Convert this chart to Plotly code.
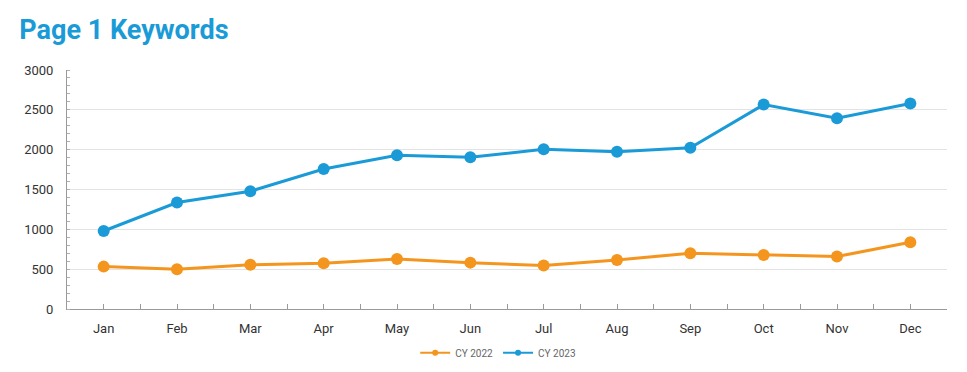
import plotly.graph_objects as go

months = ["Jan", "Feb", "Mar", "Apr", "May", "Jun", "Jul", "Aug", "Sep", "Oct", "Nov", "Dec"]
cy2022 = [532, 500, 554, 575, 629, 582, 545, 616, 700, 679, 658, 837]
cy2023 = [979, 1337, 1479, 1758, 1929, 1904, 2004, 1975, 2025, 2566, 2395, 2579]
y_ticks = [0, 500, 1000, 1500, 2000, 2500, 3000]

x_idx = list(range(len(months)))
c22 = "#F4961E"
c23 = "#1A9BD7"

fig = go.Figure()
fig.add_trace(go.Scatter(
    x=x_idx, y=cy2022, name="CY 2022", mode="lines+markers", showlegend=False,
    line=dict(color=c22, width=3), marker=dict(color=c22, size=12),
))
fig.add_trace(go.Scatter(
    x=x_idx, y=cy2023, name="CY 2023", mode="lines+markers", showlegend=False,
    line=dict(color=c23, width=3), marker=dict(color=c23, size=12),
))
# legend entries (small markers as in the reference)
for name, col in [("CY 2022", c22), ("CY 2023", c23)]:
    fig.add_trace(go.Scatter(
        x=[None], y=[None], name=name, mode="lines+markers",
        line=dict(color=col, width=2), marker=dict(color=col, size=6),
    ))

fig.update_layout(
    width=967, height=372,
    margin=dict(l=59, r=28, t=62, b=71),
    paper_bgcolor="white", plot_bgcolor="white",
    font=dict(family="Roboto", color="#333333", size=13),
    title=dict(text="<b>Page 1 Keywords</b>", x=0.0117, xanchor="left", y=0.9415, yanchor="middle",
               font=dict(family="Roboto", size=27, color=c23)),
    showlegend=True,
    legend=dict(orientation="h", x=0.49, xanchor="center", yref="container", y=0.073, yanchor="middle",
                font=dict(size=10, color="#666666"), itemwidth=30, tracegroupgap=0),
)
fig.update_xaxes(
    range=[-0.5, 11.5], tickmode="array", tickvals=x_idx, ticktext=months,
    showgrid=False, zeroline=False, showline=True, linecolor="#9a9a9a", linewidth=1,
    ticks="inside", ticklen=5, tickcolor="#9a9a9a", automargin=False, ticklabelstandoff=7,
    minor=dict(dtick=0.5, tick0=-0.5, ticks="inside", ticklen=5, tickcolor="#9a9a9a", showgrid=False),
    tickfont=dict(size=13, color="#333333"),
)
fig.update_yaxes(
    range=[0, 3000], tickmode="array", tickvals=y_ticks,
    showgrid=True, gridcolor="#e3e3e3", gridwidth=1, zeroline=False,
    showline=True, linecolor="#9a9a9a", linewidth=1, automargin=False,
    ticks="", ticklabelstandoff=10,
    minor=dict(dtick=100, tick0=0, ticks="inside", ticklen=3, tickcolor="#b0b0b0", showgrid=False),
    tickfont=dict(size=13, color="#333333"),
)

fig.write_html("out.html")
